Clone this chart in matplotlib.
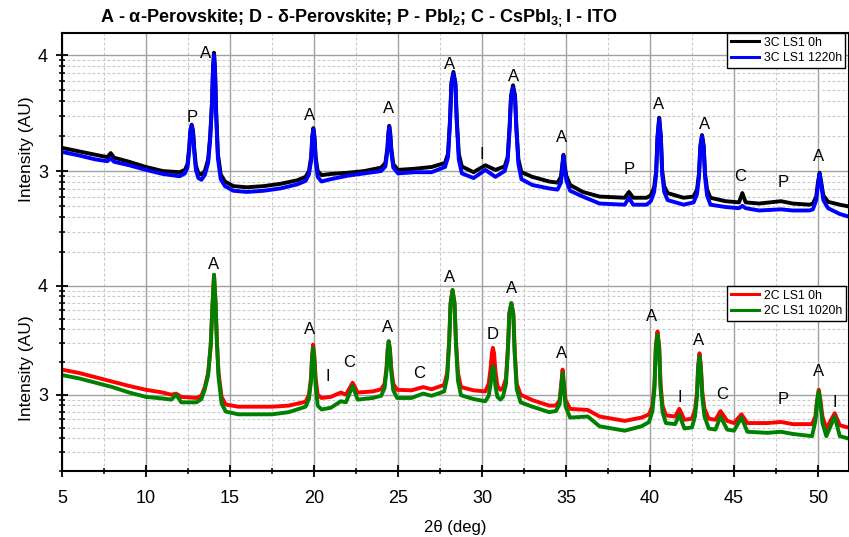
import numpy as np
import matplotlib
matplotlib.use("Agg")
import matplotlib.pyplot as plt
from matplotlib.ticker import LogLocator, FuncFormatter, MultipleLocator, NullFormatter

plt.rcParams['font.family'] = ['Liberation Sans', 'DejaVu Sans']
plt.rcParams['mathtext.fontset'] = 'custom'
plt.rcParams['mathtext.rm'] = 'Liberation Sans'
plt.rcParams['mathtext.bf'] = 'Liberation Sans:bold'

# ---- data: 2theta and log10(intensity) ----
tt_top = [5.0, 6.0, 7.0, 7.7, 7.9, 8.1, 9.0, 10.0, 11.0, 12.0,
          12.32, 12.47, 12.57, 12.64, 12.72, 12.80, 12.87, 12.97, 13.12, 13.3,
          13.5, 13.7, 13.82, 13.93, 13.99, 14.05, 14.11, 14.18, 14.28, 14.45,
          14.7, 15.2, 16.0, 17.0, 18.0, 19.0, 19.5, 19.7, 19.83, 19.9,
          19.96, 20.03, 20.1, 20.22, 20.45, 21.0, 22.0, 23.0, 24.0, 24.25,
          24.37, 24.43, 24.48, 24.54, 24.6, 24.72, 25.0, 26.0, 27.0, 27.8,
          27.98, 28.1, 28.18, 28.3, 28.42, 28.5, 28.62, 28.8, 29.5, 30.2,
          30.8, 31.35, 31.53, 31.65, 31.73, 31.85, 31.97, 32.05, 32.17, 32.35,
          33.0, 34.0, 34.5, 34.7, 34.78, 34.85, 34.92, 35.02, 35.25, 36.0,
          37.0, 38.5, 38.75, 39.0, 39.8, 40.05, 40.25, 40.37, 40.45, 40.55,
          40.65, 40.73, 40.85, 41.05, 42.0, 42.6, 42.8, 42.92, 43.0, 43.1,
          43.2, 43.28, 43.4, 43.6, 44.5, 45.3, 45.5, 45.7, 46.5, 47.8,
          48.5, 49.5, 49.7, 49.9, 50.0, 50.1, 50.2, 50.32, 50.6, 51.3, 52.0]
ls1_3c_0h = [3.20, 3.17, 3.14, 3.12, 3.155, 3.115, 3.08, 3.035, 3.00, 2.99,
             3.01, 3.06, 3.20, 3.35, 3.40, 3.35, 3.20, 3.05, 2.98, 2.97,
             3.00, 3.10, 3.30, 3.60, 3.90, 4.02, 3.88, 3.50, 3.15, 2.97,
             2.91, 2.87, 2.86, 2.87, 2.89, 2.92, 2.95, 3.00, 3.12, 3.30,
             3.37, 3.30, 3.12, 3.00, 2.965, 2.975, 2.985, 3.00, 3.03, 3.07,
             3.20, 3.33, 3.39, 3.33, 3.20, 3.06, 3.01, 3.02, 3.035, 3.07,
             3.15, 3.45, 3.76, 3.855, 3.76, 3.45, 3.15, 3.04, 2.99, 3.05,
             3.01, 3.04, 3.12, 3.40, 3.65, 3.74, 3.65, 3.38, 3.10, 2.99,
             2.95, 2.91, 2.90, 2.95, 3.05, 3.14, 3.05, 2.96, 2.88, 2.82,
             2.78, 2.77, 2.82, 2.77, 2.77, 2.79, 2.86, 3.00, 3.30, 3.46,
             3.30, 3.00, 2.87, 2.81, 2.77, 2.78, 2.84, 2.98, 3.22, 3.31,
             3.22, 2.98, 2.84, 2.77, 2.74, 2.73, 2.81, 2.73, 2.72, 2.74,
             2.72, 2.71, 2.72, 2.78, 2.90, 2.985, 2.90, 2.79, 2.735, 2.71, 2.69]
ls1_3c_1220h = [3.165, 3.135, 3.10, 3.085, 3.11, 3.08, 3.05, 3.01, 2.975, 2.955,
                2.98, 3.03, 3.17, 3.33, 3.39, 3.33, 3.17, 3.01, 2.94, 2.925,
                2.965, 3.07, 3.27, 3.58, 3.88, 4.00, 3.86, 3.47, 3.11, 2.93,
                2.87, 2.83, 2.82, 2.83, 2.85, 2.885, 2.915, 2.97, 3.09, 3.28,
                3.36, 3.28, 3.09, 2.95, 2.91, 2.93, 2.96, 2.98, 3.00, 3.04,
                3.17, 3.31, 3.38, 3.31, 3.17, 3.03, 2.98, 2.99, 2.99, 3.035,
                3.12, 3.42, 3.74, 3.84, 3.74, 3.42, 3.10, 2.98, 2.94, 3.01,
                2.95, 3.00, 3.09, 3.37, 3.63, 3.72, 3.63, 3.35, 3.06, 2.93,
                2.88, 2.85, 2.84, 2.90, 3.02, 3.13, 3.02, 2.92, 2.83, 2.78,
                2.72, 2.71, 2.77, 2.71, 2.71, 2.74, 2.82, 2.97, 3.28, 3.45,
                3.28, 2.97, 2.82, 2.75, 2.71, 2.73, 2.80, 2.95, 3.20, 3.30,
                3.20, 2.95, 2.79, 2.71, 2.69, 2.68, 2.70, 2.68, 2.66, 2.67,
                2.66, 2.66, 2.67, 2.75, 2.88, 2.975, 2.88, 2.75, 2.68, 2.63, 2.60]

tt_bot = [5.0, 6.0, 7.0, 8.0, 9.0, 10.0, 11.0, 11.5, 11.8, 12.1,
          13.0, 13.3, 13.5, 13.7, 13.85, 13.95, 14.05, 14.14, 14.22, 14.32,
          14.5, 14.75, 15.5, 16.5, 17.5, 18.5, 19.5, 19.7, 19.82, 19.89,
          19.95, 20.02, 20.1, 20.22, 20.45, 21.0, 21.6, 21.9, 22.3, 22.6,
          23.5, 24.0, 24.2, 24.32, 24.39, 24.45, 24.52, 24.6, 24.72, 24.95,
          25.8, 26.5, 27.0, 27.75, 27.93, 28.05, 28.13, 28.25, 28.37, 28.45,
          28.57, 28.75, 29.5, 30.2, 30.4, 30.52, 30.59, 30.65, 30.72, 30.8,
          30.92, 31.1, 31.25, 31.43, 31.55, 31.63, 31.75, 31.87, 31.95, 32.07,
          32.3, 33.0, 34.0, 34.4, 34.62, 34.72, 34.8, 34.88, 34.98, 35.25,
          36.3, 37.0, 38.5, 39.5, 39.95, 40.15, 40.27, 40.35, 40.45, 40.55,
          40.63, 40.75, 40.95, 41.5, 41.75, 42.05, 42.5, 42.68, 42.8, 42.87,
          42.95, 43.03, 43.12, 43.25, 43.5, 43.9, 44.2, 44.6, 45.0, 45.45,
          45.8, 47.0, 47.8, 48.5, 49.65, 49.85, 49.95, 50.05, 50.15, 50.27,
          50.5, 51.0, 51.3, 52.0]
ls1_2c_0h = [3.23, 3.20, 3.16, 3.12, 3.08, 3.045, 3.02, 3.00, 3.01, 2.98,
             2.97, 2.99, 3.07, 3.20, 3.45, 3.80, 4.10, 3.85, 3.50, 3.20,
             2.98, 2.91, 2.89, 2.89, 2.89, 2.90, 2.935, 3.00, 3.15, 3.36,
             3.46, 3.36, 3.15, 3.00, 2.97, 2.98, 3.02, 3.00, 3.11, 3.02,
             3.03, 3.05, 3.10, 3.25, 3.42, 3.49, 3.42, 3.25, 3.10, 3.045,
             3.04, 3.07, 3.05, 3.09, 3.20, 3.50, 3.84, 3.96, 3.84, 3.50,
             3.20, 3.07, 3.04, 3.03, 3.10, 3.25, 3.38, 3.43, 3.38, 3.22,
             3.08, 3.045, 3.06, 3.15, 3.45, 3.75, 3.84, 3.74, 3.40, 3.10,
             3.00, 2.95, 2.90, 2.90, 2.95, 3.10, 3.23, 3.10, 2.95, 2.87,
             2.86, 2.80, 2.76, 2.79, 2.82, 2.90, 3.10, 3.45, 3.58, 3.45,
             3.10, 2.90, 2.81, 2.80, 2.87, 2.77, 2.78, 2.86, 3.02, 3.27,
             3.38, 3.27, 3.02, 2.87, 2.78, 2.77, 2.85, 2.76, 2.74, 2.82,
             2.74, 2.74, 2.75, 2.73, 2.73, 2.80, 2.95, 3.045, 2.95, 2.80,
             2.69, 2.83, 2.72, 2.69]
ls1_2c_1020h = [3.18, 3.15, 3.11, 3.07, 3.02, 2.98, 2.965, 2.955, 3.00, 2.93,
                2.93, 2.96, 3.05, 3.18, 3.44, 3.79, 4.10, 3.84, 3.48, 3.16,
                2.92, 2.845, 2.82, 2.82, 2.82, 2.84, 2.89, 2.96, 3.12, 3.33,
                3.43, 3.32, 3.08, 2.90, 2.865, 2.88, 2.94, 2.93, 3.08, 2.955,
                2.97, 2.99, 3.06, 3.22, 3.41, 3.49, 3.41, 3.21, 3.04, 2.97,
                2.97, 3.01, 2.99, 3.03, 3.16, 3.48, 3.83, 3.96, 3.83, 3.47,
                3.13, 2.995, 2.96, 2.94, 2.99, 3.10, 3.22, 3.26, 3.22, 3.08,
                2.98, 2.955, 2.98, 3.10, 3.42, 3.74, 3.84, 3.73, 3.37, 3.05,
                2.93, 2.89, 2.84, 2.85, 2.91, 3.07, 3.20, 3.06, 2.89, 2.79,
                2.80, 2.71, 2.67, 2.71, 2.75, 2.85, 3.06, 3.42, 3.55, 3.42,
                3.06, 2.84, 2.74, 2.73, 2.815, 2.69, 2.70, 2.80, 2.98, 3.24,
                3.35, 3.24, 2.97, 2.80, 2.69, 2.68, 2.80, 2.68, 2.67, 2.79,
                2.66, 2.65, 2.66, 2.64, 2.62, 2.76, 2.93, 3.03, 2.92, 2.74,
                2.62, 2.80, 2.62, 2.59]

# phase labels: (letter, 2theta, log10 height)
marks_top = [('P', 12.74, 3.466), ('A', 13.57, 4.017), ('A', 19.76, 3.483), ('A', 24.46, 3.543),
             ('A', 28.04, 3.922), ('I', 30.0, 3.147), ('A', 31.90, 3.819), ('A', 34.76, 3.293),
             ('P', 38.75, 3.017), ('A', 40.54, 3.578), ('A', 43.27, 3.405), ('C', 45.36, 2.957),
             ('P', 47.92, 2.905), ('A', 50.06, 3.129)]
marks_bot = [('A', 14.05, 4.193), ('A', 19.76, 3.596), ('I', 20.83, 3.165), ('C', 22.08, 3.294),
             ('A', 24.40, 3.615), ('C', 26.25, 3.193), ('A', 28.04, 4.073), ('D', 30.65, 3.550),
             ('A', 31.79, 3.972), ('A', 34.76, 3.376), ('A', 40.12, 3.716), ('I', 41.79, 2.972),
             ('A', 42.92, 3.495), ('C', 44.29, 3.000), ('P', 47.92, 2.954), ('A', 50.06, 3.211),
             ('I', 51.01, 2.927)]

fig = plt.figure(figsize=(8.49, 5.37), dpi=100)
ax1 = fig.add_axes([62/849, 0.5065, 1 - 62/849, 0.432])
ax2 = fig.add_axes([62/849, 0.1229, 1 - 62/849, 0.3836])


def style(ax, ylo):
    ax.set_yscale('log')
    ax.set_xlim(5, 51.85)
    ax.set_ylim(10**ylo, 10**4.19)
    ax.xaxis.set_major_locator(MultipleLocator(5))
    ax.xaxis.set_minor_locator(MultipleLocator(2.5))
    ax.yaxis.set_major_locator(LogLocator(base=10))
    ax.yaxis.set_minor_locator(LogLocator(base=10, subs=np.arange(2, 10)))
    ax.yaxis.set_major_formatter(FuncFormatter(lambda v, _: '%d' % round(np.log10(v))))
    ax.yaxis.set_minor_formatter(NullFormatter())
    ax.grid(which='major', color='#a0a0a0', lw=1.0, ls='-')
    ax.grid(which='minor', color='#c8c8c8', lw=0.8, ls=(0, (2.5, 2)))
    ax.set_axisbelow(True)
    ax.tick_params(which='major', direction='inout', length=8, width=1.3, labelsize=13)
    ax.tick_params(which='minor', direction='inout', length=5, width=1.1)
    ax.tick_params(axis='x', which='major', pad=10)
    ax.tick_params(axis='y', which='major', pad=6)
    for s in ax.spines.values():
        s.set_linewidth(1.5)
    ax.set_ylabel('Intensity (AU)', fontsize=12.5, labelpad=3)


style(ax1, 2.19)
style(ax2, 2.30)
ax1.spines['bottom'].set_visible(False)
ax2.spines['top'].set_visible(False)
ax1.tick_params(axis='x', which='both', bottom=False, labelbottom=False, top=False)
ax2.tick_params(axis='x', which='both', top=False)
ax1.tick_params(axis='y', which='both', right=False)
ax2.tick_params(axis='y', which='both', right=False)

ax1.plot(tt_top, 10**np.array(ls1_3c_0h), color='black', lw=2.8, label='3C LS1 0h')
ax1.plot(tt_top, 10**np.array(ls1_3c_1220h), color='#0000ff', lw=2.8, label='3C LS1 1220h')
ax2.plot(tt_bot, 10**np.array(ls1_2c_0h), color='#ff0000', lw=2.8, label='2C LS1 0h')
ax2.plot(tt_bot, 10**np.array(ls1_2c_1020h), color='#008000', lw=2.8, label='2C LS1 1020h')

for ax, marks in ((ax1, marks_top), (ax2, marks_bot)):
    for t, x, y in marks:
        ax.text(x, 10**y, t, fontsize=12, ha='center', va='center', clip_on=False)

for ax, yb in ((ax1, 1.0), (ax2, 0.898)):
    leg = ax.legend(loc='upper left', bbox_to_anchor=((727 - 62) / 787, yb), fontsize=8.8,
                    frameon=True, fancybox=False, borderaxespad=0, borderpad=0.3,
                    handlelength=2.3, handletextpad=0.4, labelspacing=0.3)
    leg.get_frame().set_edgecolor('black')
    leg.get_frame().set_linewidth(1.0)
    leg.get_frame().set_alpha(1)
    for h in leg.get_lines():
        h.set_linewidth(2.2)

ax2.set_xlabel('2θ (deg)', fontsize=12, labelpad=9)
fig.text(100/849, 1 - 18/537, r'A - α-Perovskite; D - δ-Perovskite; P - PbI$_\mathbf{2}$; '
         r'C - CsPbI$_\mathbf{3;}$I - ITO', fontsize=13, fontweight='bold', ha='left', va='center')

fig.savefig('out.png', dpi=100)
